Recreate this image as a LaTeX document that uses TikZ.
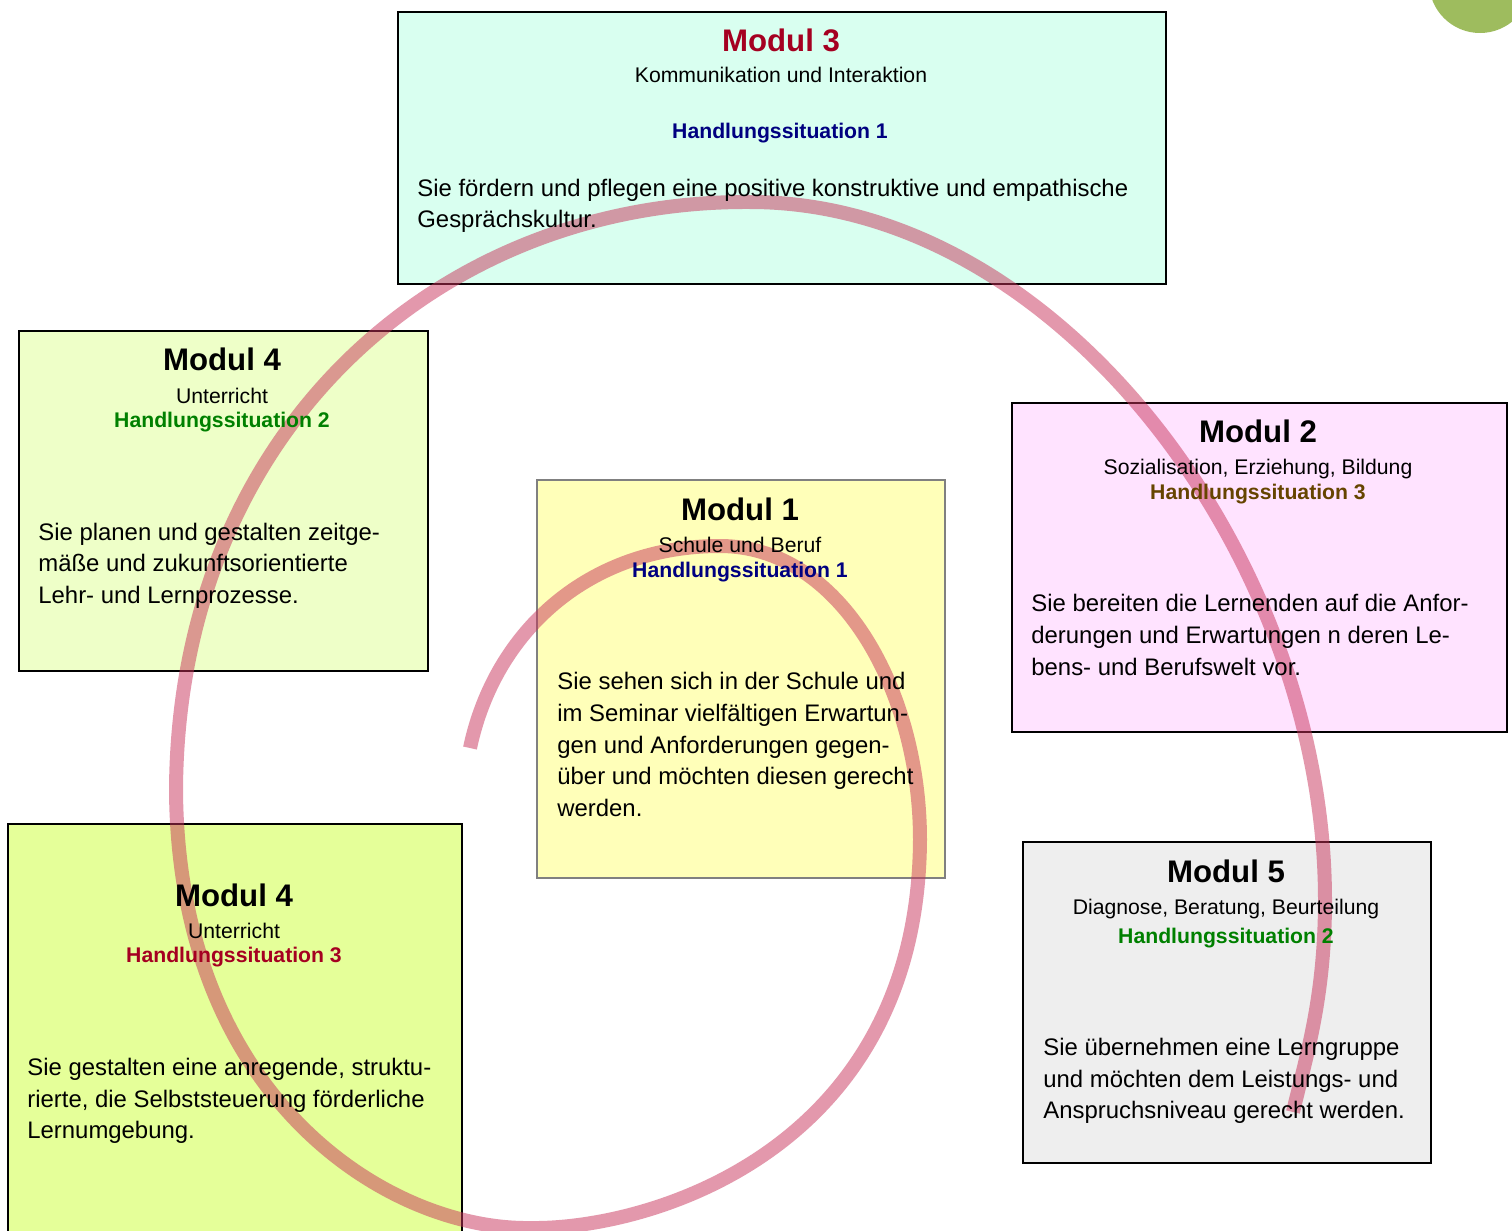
\documentclass[tikz,border=0pt]{standalone}
\usepackage{fontspec}
\setmainfont{Liberation Sans}
\definecolor{cThree}{RGB}{217,255,240}
\definecolor{cFourA}{RGB}{238,255,200}
\definecolor{cTwo}{RGB}{255,227,255}
\definecolor{cOne}{RGB}{255,255,185}
\definecolor{cFourB}{RGB}{229,255,153}
\definecolor{cFive}{RGB}{238,238,238}
\definecolor{darkred}{RGB}{165,0,33}
\definecolor{navyc}{RGB}{0,0,128}
\definecolor{greenc}{RGB}{0,128,0}
\definecolor{brownc}{RGB}{102,68,0}
\definecolor{spiralc}{RGB}{200,50,90}
\definecolor{dotgreen}{RGB}{158,188,94}
\tikzset{
  modbox/.style={draw=black, line width=1pt, inner sep=0pt, anchor=north west},
  title/.style={font=\fontsize{15.6}{18}\selectfont\bfseries, anchor=base, inner sep=0pt},
  sub/.style={font=\fontsize{10.6}{13}\selectfont, anchor=base, inner sep=0pt},
  hs/.style={font=\fontsize{10.6}{13}\selectfont\bfseries, anchor=base, inner sep=0pt},
  body/.style={font=\fontsize{11.95}{15}\selectfont, anchor=base west, inner sep=0pt},
  spiral/.style={draw=spiralc, line width=7pt, opacity=0.5}
}
\begin{document}
\begin{tikzpicture}[x=0.5pt, y=-0.5pt]
\clip (0,0) rectangle (1512,1231);
\fill[white] (0,0) rectangle (1512,1231);
% green circle top right
\fill[dotgreen] (1480,-18) circle[radius=51];
% boxes
\node[modbox, fill=cThree, minimum width=384pt, minimum height=136pt] (b3) at (397,11) {};
\node[modbox, fill=cFourA, minimum width=204.5pt, minimum height=170pt] (b4a) at (18,330) {};
\node[modbox, fill=cTwo, minimum width=247.5pt, minimum height=164.5pt] (b2) at (1011,402) {};
\node[modbox, draw=gray, fill=cOne, minimum width=204pt, minimum height=199pt] (b1) at (536,479) {};
\node[modbox, fill=cFourB, minimum width=227pt, minimum height=210pt] (b4b) at (7,823) {};
\node[modbox, fill=cFive, minimum width=204pt, minimum height=160.5pt] (b5) at (1022,841) {};
% spiral
\coordinate (sp0) at (470,748);
\coordinate (sp1) at (720,546);
\coordinate (sp2) at (920,840);
\coordinate (sp3) at (530,1228);
\coordinate (sp4) at (176,790);
\coordinate (sp5) at (750,202);
\coordinate (sp6) at (1325,900);
\coordinate (sp7) at (1293,1112);
\draw[spiral] (sp0)
  .. controls (495,630) and (590,546) .. (sp1)
  .. controls (840,546) and (920,690) .. (sp2)
  .. controls (918,1150) and (650,1230) .. (sp3)
  .. controls (390,1230) and (178,1100) .. (sp4)
  .. controls (178,430) and (440,200) .. (sp5)
  .. controls (1060,202) and (1325,560) .. (sp6)
  .. controls (1325,1000) and (1305,1060) .. (sp7);
% Modul 3
\node[title, text=darkred] (t3) at (781,52) {Modul 3};
\node[sub] (s3) at (781,83) {Kommunikation und Interaktion};
\node[hs, text=navyc] (h3) at (780,138) {Handlungssituation 1};
\node[body] (p3a) at (417,196) {Sie fördern und pflegen eine positive konstruktive und empathische};
\node[body] (p3b) at (417,227) {Gesprächskultur.};
% Modul 4 top
\node[title] (t4a) at (222,370) {Modul 4};
\node[sub] (s4a) at (222,403) {Unterricht};
\node[hs, text=greenc] (h4a) at (222,427) {Handlungssituation 2};
\node[body] (p4a1) at (38,540) {Sie planen und gestalten zeitge-};
\node[body] (p4a2) at (38,571) {mäße und zukunftsorientierte};
\node[body] (p4a3) at (38,603) {Lehr- und Lernprozesse.};
% Modul 2
\node[title] (t2) at (1258,442) {Modul 2};
\node[sub] (s2) at (1258,474) {Sozialisation, Erziehung, Bildung};
\node[hs, text=brownc] (h2) at (1258,499) {Handlungssituation 3};
\node[body] (p2a) at (1031,611) {Sie bereiten die Lernenden auf die Anfor-};
\node[body] (p2b) at (1031,643) {derungen und Erwartungen n deren Le-};
\node[body] (p2c) at (1031,675) {bens- und Berufswelt vor.};
% Modul 1
\node[title] (t1) at (740,520) {Modul 1};
\node[sub] (s1) at (740,552) {Schule und Beruf};
\node[hs, text=navyc] (h1) at (740,577) {Handlungssituation 1};
\node[body] (p1a) at (557,689) {Sie sehen sich in der Schule und};
\node[body] (p1b) at (557,721) {im Seminar vielfältigen Erwartun-};
\node[body] (p1c) at (557,753) {gen und Anforderungen gegen-};
\node[body] (p1d) at (557,784) {über und möchten diesen gerecht};
\node[body] (p1e) at (557,816) {werden.};
% Modul 4 bottom
\node[title] (t4b) at (234,906) {Modul 4};
\node[sub] (s4b) at (234,938) {Unterricht};
\node[hs, text=darkred] (h4b) at (234,962) {Handlungssituation 3};
\node[body] (p4b1) at (27,1075) {Sie gestalten eine anregende, struktu-};
\node[body] (p4b2) at (27,1107) {rierte, die Selbststeuerung förderliche};
\node[body] (p4b3) at (27,1138) {Lernumgebung.};
% Modul 5
\node[title] (t5) at (1226,882) {Modul 5};
\node[sub] (s5) at (1226,914) {Diagnose, Beratung, Beurteilung};
\node[hs, text=greenc] (h5) at (1226,943) {Handlungssituation 2};
\node[body] (p5a) at (1043,1055) {Sie übernehmen eine Lerngruppe};
\node[body] (p5b) at (1043,1087) {und möchten dem Leistungs- und};
\node[body] (p5c) at (1043,1118) {Anspruchsniveau gerecht werden.};
\end{tikzpicture}
\end{document}
